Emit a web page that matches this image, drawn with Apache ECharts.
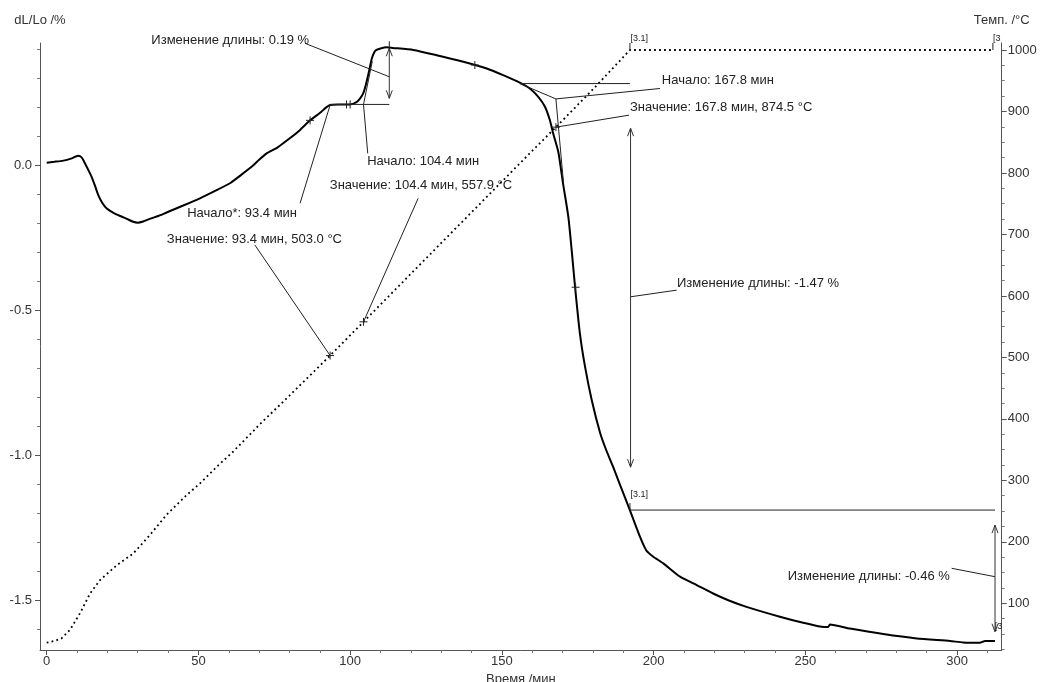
<!DOCTYPE html>
<html>
<head>
<meta charset="utf-8">
<script src="https://cdn.jsdelivr.net/npm/echarts@6/dist/echarts.min.js"></script>
<style>
html,body{margin:0;padding:0;background:#fff;}
#chart{width:1046px;height:682px;}
</style>
</head>
<body>
<div id="chart"></div>
<script>
// ---------------- DATA ----------------
// dL/Lo (%) vs time (min)
const dlTime = [0,2.5,5.5,8.0,10.4,11.5,12.6,13.7,14.8,16.0,17.0,18.4,19.8,22.0,24.2,26.4,28.5,30.0,31.8,34.0,36.8,39.5,45.0,50.5,55.0,60.4,64.0,68.0,70.0,72.5,76.0,80.1,83.5,86.8,90.1,92.0,93.4,96.0,99.9,102.1,103.3,104.3,105.2,106.0,107.1,108.0,108.7,110.0,112.0,114.0,120.8,128.5,137.3,145.0,150.4,155.9,159.2,162.0,164.2,165.8,166.9,168.6,170.2,171.9,173.0,174.1,175.7,177.4,179.6,182.4,184.3,186.5,188.9,192.2,194.0,195.5,196.6,197.7,199.9,203.2,208.7,214.2,219.6,225.0,230.6,241.6,249.3,255.4,257.5,258.1,264.7,275.7,286.7,297.7,302.0,307.5,309.2,312.5];
const dlValue = [0.010,0.013,0.017,0.024,0.034,0.028,0.008,-0.015,-0.039,-0.072,-0.102,-0.130,-0.148,-0.163,-0.174,-0.184,-0.194,-0.197,-0.193,-0.184,-0.174,-0.162,-0.138,-0.113,-0.090,-0.061,-0.033,0.000,0.020,0.042,0.062,0.094,0.123,0.156,0.182,0.200,0.209,0.211,0.211,0.219,0.232,0.249,0.280,0.315,0.368,0.392,0.399,0.404,0.408,0.406,0.399,0.381,0.358,0.335,0.312,0.286,0.266,0.237,0.203,0.157,0.111,0.047,-0.065,-0.177,-0.292,-0.418,-0.579,-0.694,-0.809,-0.924,-0.980,-1.036,-1.101,-1.190,-1.240,-1.281,-1.308,-1.330,-1.350,-1.373,-1.419,-1.448,-1.477,-1.502,-1.523,-1.557,-1.578,-1.592,-1.593,-1.584,-1.598,-1.617,-1.632,-1.641,-1.646,-1.647,-1.641,-1.641];
// Temperature (°C) vs time (min)
const tempTime  = [0,2.7,4.9,7.7,11.0,14.3,17.6,23.1,28.5,34.0,39.5,46.1,50.5,56.0,61.5,70.0,80.0,93.4,104.4,120.0,140.0,160.0,167.8,180.0,192.2,250.0,312.0];
const tempValue = [36,39,43,57,84,116,138,162,181,211,244,276,295,322,347,390,438,503.0,557.9,636,736,836,874.5,936,1000,1000,1000];

// Tick labels / tick positions
const xTickLabels   = [0,50,100,150,200,250,300];
const xMinorTicks   = [10,20,30,40,60,70,80,90,110,120,130,140,160,170,180,190,210,220,230,240,260,270,280,290,310];
const leftTickLabels = [0.0,-0.5,-1.0,-1.5];
const leftMinorTicks = [0.4,0.3,0.2,0.1,-0.1,-0.2,-0.3,-0.4,-0.6,-0.7,-0.8,-0.9,-1.1,-1.2,-1.3,-1.4,-1.6];
const rightTickLabels = [100,200,300,400,500,600,700,800,900,1000];
const rightMinorTicks = [25,50,75,125,150,175,225,250,275,325,350,375,425,450,475,525,550,575,625,650,675,725,750,775,825,850,875,925,950,975];

// Axis ranges
const xRange = [-2.2, 314.7];
const leftRange = [-1.672, 0.423];
const rightRange = [24.1, 1011.4];

// Annotation texts (data coordinates: [time, value] on axis L = dL/Lo, R = temperature)
const noteTexts = [
  {text:'Изменение длины: 0.19 %', axis:'L', at:[86.5,0.433], align:'right'},
  {text:'Начало: 104.4 мин', axis:'L', at:[105.6,0.013], align:'left'},
  {text:'Значение: 104.4 мин, 557.9 °C', axis:'L', at:[93.3,-0.067], align:'left'},
  {text:'Начало*: 93.4 мин', axis:'L', at:[82.5,-0.164], align:'right'},
  {text:'Значение: 93.4 мин, 503.0 °C', axis:'L', at:[39.6,-0.255], align:'left'},
  {text:'Начало: 167.8 мин', axis:'L', at:[202.7,0.295], align:'left'},
  {text:'Значение: 167.8 мин, 874.5 °C', axis:'L', at:[192.2,0.200], align:'left'},
  {text:'Изменение длины: -1.47 %', axis:'L', at:[207.7,-0.406], align:'left'},
  {text:'Изменение длины: -0.46 %', axis:'L', at:[297.6,-1.419], align:'right'}
];
const segTexts = [
  {text:'[3.1]', axis:'R', at:[192.4,1019]},
  {text:'[3', axis:'R', at:[311.8,1019]},
  {text:'[3.1]', axis:'L', at:[192.4,-1.135]},
  {text:'[3', axis:'L', at:[312.4,-1.590]}
];
// Leader and construction lines: [axisA, t, v, axisB, t, v]
const noteLines = [
  ['L',85.1,0.422,'L',112.9,0.3065],
  ['L',104.4,0.211,'L',105.8,0.042],
  ['R',104.4,557.9,'L',122.4,-0.113],
  ['L',93.4,0.209,'L',83.5,-0.130],
  ['R',93.4,503.0,'L',68.6,-0.274],
  ['L',167.8,0.230,'L',202.1,0.266],
  ['R',167.8,874.5,'L',191.9,0.174],
  ['L',192.4,-0.453,'L',207.6,-0.430],
  ['L',312.5,-1.419,'L',298.2,-1.390],
  ['L',93.3,0.211,'L',112.9,0.211],
  ['L',104.4,0.211,'L',107.3,0.360],
  ['L',155.9,0.283,'L',192.2,0.283],
  ['L',155.9,0.283,'L',167.8,0.230],
  ['L',167.8,0.230,'L',170.3,-0.060],
  ['L',192.2,-1.189,'L',312.5,-1.189]
];
// Double arrows: [t, vTop, vBottom] on axis L
const noteArrows = [
  [112.9,0.405,0.232],
  [192.4,0.129,-1.041],
  [312.5,-1.241,-1.609]
];
// Cross markers
const noteCrosses = [
  ['R',93.4,503.0],['R',104.4,557.9],['R',167.8,874.5],
  ['L',86.8,0.156],['L',141.1,0.347],['L',174.3,-0.420]
];
// Small vertical marks: [axis, t, v, kind]  kind 'c' centered, 'u' upward
const noteTicks = [
  ['L',98.8,0.211,'c'],['L',100.0,0.211,'c'],
  ['L',192.2,-1.189,'u'],['R',192.2,1000,'u'],['R',311.8,1000,'u'],['L',112.9,0.405,'u']
];

// ---------------- CHART ----------------
const FONT = 'Arial, "Liberation Sans", sans-serif';
const chart = echarts.init(document.getElementById('chart'), null, {renderer:'canvas'});

function minorAxis(base, ticks, pos) {
  return Object.assign({}, base, {
    position: pos,
    axisLine: {show:false, onZero:false},
    axisTick: {show:true, length:3, inside:false, customValues: ticks, lineStyle:{color:'#777', width:1}},
    axisLabel: {show:false},
    splitLine: {show:false},
    name: ''
  });
}

const xBase = {type:'value', min:xRange[0], max:xRange[1], gridIndex:0};
const lBase = {type:'value', min:leftRange[0], max:leftRange[1], gridIndex:0};
const rBase = {type:'value', min:rightRange[0], max:rightRange[1], gridIndex:0};

const option = {
  animation: false,
  backgroundColor: '#ffffff',
  grid: {left:40, right:44.3, top:43, bottom:32, containLabel:false, outerBoundsMode:'none'},
  xAxis: [
    Object.assign({}, xBase, {
      position:'bottom',
      name:'Время /мин', nameLocation:'middle', nameGap:20,
      nameTextStyle:{fontSize:13, color:'#333', fontFamily:FONT, verticalAlign:'top'},
      axisLine:{show:true, onZero:false, lineStyle:{color:'#555', width:1}},
      axisTick:{show:true, length:5, customValues:xTickLabels, lineStyle:{color:'#555'}},
      axisLabel:{show:true, customValues:xTickLabels, fontSize:13, color:'#333', fontFamily:FONT, margin:5,
                 formatter:function(v){return String(v);}},
      splitLine:{show:false}
    }),
    minorAxis(xBase, xMinorTicks, 'bottom')
  ],
  yAxis: [
    Object.assign({}, lBase, {
      position:'left',
      name:'dL/Lo /%', nameLocation:'end', nameGap:16,
      nameTextStyle:{fontSize:13, color:'#333', fontFamily:FONT, align:'center'},
      axisLine:{show:true, onZero:false, lineStyle:{color:'#555', width:1}},
      axisTick:{show:true, length:5, customValues:leftTickLabels, lineStyle:{color:'#555'}},
      axisLabel:{show:true, customValues:leftTickLabels, fontSize:13, color:'#333', fontFamily:FONT, margin:8,
                 formatter:function(v){return Number(v).toFixed(1);}},
      splitLine:{show:false}
    }),
    Object.assign({}, rBase, {
      position:'right',
      name:'Темп. /°C', nameLocation:'end', nameGap:16,
      nameTextStyle:{fontSize:13, color:'#333', fontFamily:FONT, align:'center'},
      axisLine:{show:true, onZero:false, lineStyle:{color:'#555', width:1}},
      axisTick:{show:true, length:5, customValues:rightTickLabels, lineStyle:{color:'#555'}},
      axisLabel:{show:true, customValues:rightTickLabels, fontSize:13, color:'#333', fontFamily:FONT, margin:6,
                 formatter:function(v){return String(v);}},
      splitLine:{show:false}
    }),
    minorAxis(lBase, leftMinorTicks, 'left'),
    minorAxis(rBase, rightMinorTicks, 'right')
  ],
  series: [
    {
      name:'dL/Lo', type:'line', xAxisIndex:0, yAxisIndex:0,
      data: dlTime.map((t,i)=>[t, dlValue[i]]),
      showSymbol:false, symbol:'none', smooth:0.2,
      lineStyle:{color:'#000', width:2},
      z:3
    },
    {
      name:'Темп.', type:'line', xAxisIndex:0, yAxisIndex:1,
      data: tempTime.map((t,i)=>[t, tempValue[i]]),
      showSymbol:false, symbol:'none', smooth:false,
      lineStyle:{color:'#000', width:1.8, type:[1.8,3.2], cap:'butt'},
      z:2
    }
  ]
};
chart.setOption(option);

// ---------------- ANNOTATIONS (placed through the chart's own scales) ----------------
function P(axis, t, v) {
  return chart.convertToPixel({seriesIndex: axis === 'R' ? 1 : 0}, [t, v]);
}
const ink = '#222';
const g = [];
function seg(a, b, color) {
  g.push({type:'line', silent:true, z:10, shape:{x1:a[0], y1:a[1], x2:b[0], y2:b[1]},
          style:{stroke: color || ink, lineWidth:1}});
}
function poly(pts, color) {
  g.push({type:'polyline', silent:true, z:10, shape:{points:pts}, style:{stroke: color || ink, lineWidth:1, fill:null}});
}
noteLines.forEach(l => seg(P(l[0],l[1],l[2]), P(l[3],l[4],l[5])));
noteArrows.forEach(a => {
  const top = P('L', a[0], a[1]), bot = P('L', a[0], a[2]);
  seg(top, bot, '#333');
  poly([[top[0]-3, top[1]+8],[top[0], top[1]],[top[0]+3, top[1]+8]], '#333');
  poly([[bot[0]-3, bot[1]-8],[bot[0], bot[1]],[bot[0]+3, bot[1]-8]], '#333');
});
noteCrosses.forEach(c => {
  const p = P(c[0], c[1], c[2]);
  seg([p[0]-4, p[1]], [p[0]+4, p[1]]);
  seg([p[0], p[1]-4], [p[0], p[1]+4]);
});
noteTicks.forEach(k => {
  const p = P(k[0], k[1], k[2]);
  if (k[3] === 'c') seg([p[0], p[1]-4], [p[0], p[1]+4]);
  else seg([p[0], p[1]], [p[0], p[1]-7]);
});
noteTexts.forEach(n => {
  const p = P(n.axis, n.at[0], n.at[1]);
  g.push({type:'text', silent:true, z:11, x:p[0], y:p[1],
          style:{text:n.text, fill:'#222', font:'13px ' + FONT, align:n.align, verticalAlign:'middle'}});
});
segTexts.forEach(n => {
  const p = P(n.axis, n.at[0], n.at[1]);
  g.push({type:'text', silent:true, z:11, x:p[0], y:p[1],
          style:{text:n.text, fill:'#222', font:'9px ' + FONT, align:'left', verticalAlign:'middle'}});
});
chart.setOption({graphic: g});
</script>
</body>
</html>
